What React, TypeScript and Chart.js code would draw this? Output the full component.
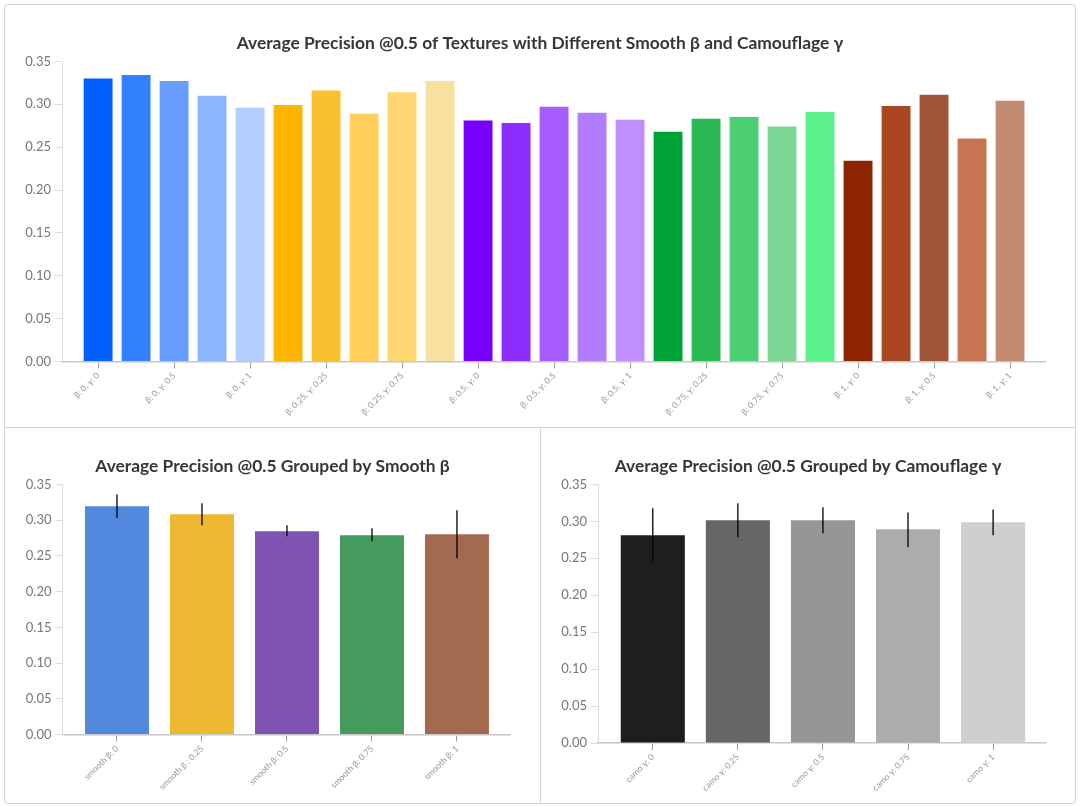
import React, { useEffect, useRef } from 'react';
import { Chart, registerables } from 'chart.js';

Chart.register(...registerables);

// ---------- data ----------
const textureLabels = [
  'β: 0, γ: 0', 'β: 0, γ: 0.25', 'β: 0, γ: 0.5', 'β: 0, γ: 0.75', 'β: 0, γ: 1',
  'β: 0.25, γ: 0', 'β: 0.25, γ: 0.25', 'β: 0.25, γ: 0.5', 'β: 0.25, γ: 0.75', 'β: 0.25, γ: 1',
  'β: 0.5, γ: 0', 'β: 0.5, γ: 0.25', 'β: 0.5, γ: 0.5', 'β: 0.5, γ: 0.75', 'β: 0.5, γ: 1',
  'β: 0.75, γ: 0', 'β: 0.75, γ: 0.25', 'β: 0.75, γ: 0.5', 'β: 0.75, γ: 0.75', 'β: 0.75, γ: 1',
  'β: 1, γ: 0', 'β: 1, γ: 0.25', 'β: 1, γ: 0.5', 'β: 1, γ: 0.75', 'β: 1, γ: 1',
];
const textureAP = [
  0.330, 0.334, 0.327, 0.310, 0.296,
  0.299, 0.316, 0.289, 0.314, 0.327,
  0.281, 0.278, 0.297, 0.290, 0.282,
  0.268, 0.283, 0.285, 0.274, 0.291,
  0.234, 0.298, 0.311, 0.260, 0.304,
];
const textureColors = [
  '#0061ff', '#3380ff', '#669dff', '#8cb5ff', '#b3cdff',
  '#ffb400', '#fbc02f', '#ffcf59', '#ffd670', '#f8e09f',
  '#7700ff', '#8c2cff', '#a65cff', '#b27cff', '#c08eff',
  '#00a336', '#2bb955', '#4ccf72', '#7dd895', '#5cf08a',
  '#8b2500', '#aa4721', '#a15437', '#c77453', '#c38a72',
];
const textureTickIdx = [0, 2, 4, 6, 8, 10, 12, 14, 16, 18, 20, 22, 24];

const smoothLabels = ['smooth β: 0', 'smooth β : 0.25', 'smooth β: 0.5', 'smooth β: 0.75', 'smooth β: 1'];
const smoothAP = [0.3193, 0.3081, 0.2844, 0.2790, 0.2802];
const smoothErrLow = [0.3030, 0.2927, 0.2774, 0.2704, 0.2467];
const smoothErrHigh = [0.3360, 0.3235, 0.2927, 0.2885, 0.3137];
const smoothColors = ['#5288dd', '#eeb833', '#7f53b2', '#469b5f', '#a36a50'];

const camoLabels = ['camo γ: 0', 'camo γ: 0.25', 'camo γ: 0.5', 'camo γ: 0.75', 'camo γ: 1'];
const camoAP = [0.2810, 0.3014, 0.3014, 0.2892, 0.2986];
const camoErrLow = [0.2460, 0.2784, 0.2838, 0.2650, 0.2810];
const camoErrHigh = [0.3176, 0.3243, 0.3190, 0.3120, 0.3160];
const camoColors = ['#1e1e1e', '#666666', '#969696', '#acacac', '#cfcfcf'];

const groupTickIdx = [0, 1, 2, 3, 4];
const yTickValues = [0, 0.05, 0.1, 0.15, 0.2, 0.25, 0.3, 0.35];

const FONT = 'Lato, "Noto Sans", sans-serif';

const errorBarPlugin = {
  id: 'errorBars',
  afterDatasetsDraw(chart: any, _args: any, opts: any) {
    const low: number[] | undefined = opts && opts.low;
    const high: number[] | undefined = opts && opts.high;
    if (!low || !high) return;
    const xs = chart.scales.x;
    const ys = chart.scales.y;
    const ctx = chart.ctx;
    ctx.save();
    ctx.strokeStyle = '#000';
    ctx.lineWidth = 1.3;
    low.forEach((l, i) => {
      const px = xs.getPixelForValue(i);
      ctx.beginPath();
      ctx.moveTo(px, ys.getPixelForValue(high[i]));
      ctx.lineTo(px, ys.getPixelForValue(l));
      ctx.stroke();
    });
    ctx.restore();
  },
};

interface PanelProps {
  labels: string[];
  values: number[];
  colors: string[];
  title: string;
  tickIdx: number[];
  xMin: number;
  xMax: number;
  barPct: number;
  width: number;
  height: number;
  yAxisWidth: number;
  xAxisHeight: number;
  rightGap: number;
  titleTop: number;
  titleBottom: number;
  errLow?: number[];
  errHigh?: number[];
}

function BarPanel(p: PanelProps) {
  const ref = useRef<HTMLCanvasElement | null>(null);
  useEffect(() => {
    if (!ref.current) return;
    const chart = new Chart(ref.current, {
      type: 'bar',
      data: {
        datasets: [
          {
            data: p.values.map((v, i) => ({ x: i, y: v })),
            backgroundColor: p.colors,
            borderWidth: 0,
            barPercentage: p.barPct,
            categoryPercentage: 1,
            xAxisID: 'x',
            yAxisID: 'y',
          } as any,
        ],
      },
      options: {
        responsive: false,
        animation: false,
        events: [],
        layout: { padding: 0 },
        plugins: {
          legend: { display: false },
          tooltip: { enabled: false },
          title: {
            display: true,
            text: p.title,
            color: '#363636',
            fullSize: true,
            font: { family: FONT, size: 17.4, weight: 'bold', lineHeight: 1.2 },
            padding: { top: p.titleTop, bottom: p.titleBottom },
          },
          errorBars: { low: p.errLow, high: p.errHigh },
        } as any,
        scales: {
          x: {
            type: 'linear',
            min: p.xMin,
            max: p.xMax,
            offset: false,
            afterBuildTicks: (scale: any) => {
              scale.ticks = p.tickIdx.map((v) => ({ value: v }));
            },
            afterFit: (scale: any) => {
              scale.height = p.xAxisHeight;
            },
            grid: {
              display: true,
              offset: false,
              drawOnChartArea: false,
              drawTicks: true,
              tickLength: 7,
              tickColor: '#9a9a9a',
            },
            border: { display: true, color: '#c6c6c6', width: 1.5 },
            ticks: {
              autoSkip: false,
              minRotation: 45,
              maxRotation: 45,
              padding: 2,
              color: '#959595',
              font: { family: FONT, size: 8.5 },
              callback: (v: any) => p.labels[Math.round(Number(v))] ?? '',
            },
          },
          y: {
            type: 'linear',
            position: 'left',
            min: 0,
            max: 0.35,
            afterBuildTicks: (scale: any) => {
              scale.ticks = yTickValues.map((v) => ({ value: v }));
            },
            afterFit: (scale: any) => {
              scale.width = p.yAxisWidth;
            },
            grid: {
              display: true,
              drawOnChartArea: false,
              drawTicks: true,
              tickLength: 7,
              tickColor: '#dddddd',
            },
            border: { display: true, color: '#dddddd', width: 1 },
            ticks: {
              padding: 4,
              color: '#777777',
              font: { family: FONT, size: 13 },
              callback: (v: any) => Number(v).toFixed(2),
            },
          },
          gapRight: {
            type: 'linear',
            position: 'right',
            display: true,
            min: 0,
            max: 0.35,
            afterFit: (scale: any) => {
              scale.width = p.rightGap;
            },
            grid: { display: false },
            border: { display: false },
            ticks: { display: false },
          },
        },
      } as any,
      plugins: [errorBarPlugin as any],
    });
    return () => chart.destroy();
  }, []);
  return <canvas ref={ref} width={p.width} height={p.height} style={{ display: 'block', width: p.width, height: p.height }} />;
}

const panelStyle = (left: number, top: number, w: number, h: number): React.CSSProperties => ({
  position: 'absolute',
  left,
  top,
  width: w,
  height: h,
  boxSizing: 'border-box',
  border: '1px solid #d5d5d5',
  background: '#fff',
});

export default function App() {
  return (
    <div style={{ position: 'absolute', left: 0, top: 0, width: 1080, height: 806, background: '#fff' }}>
      <div style={{ ...panelStyle(4, 4, 1072, 424), borderRadius: '4px 4px 0 0' }}>
        <BarPanel
          labels={textureLabels}
          values={textureAP}
          colors={textureColors}
          title="Average Precision @0.5 of Textures with Different Smooth β and Camouflage γ"
          tickIdx={textureTickIdx}
          xMin={-0.95}
          xMax={24.92}
          barPct={0.76}
          width={1070}
          height={422}
          yAxisWidth={57}
          xAxisHeight={65.5}
          rightGap={30}
          titleTop={27.5}
          titleBottom={8}
        />
      </div>
      <div style={{ ...panelStyle(4, 427, 537, 377), borderRadius: '0 0 0 4px' }}>
        <BarPanel
          labels={smoothLabels}
          values={smoothAP}
          colors={smoothColors}
          title="Average Precision @0.5 Grouped by Smooth β"
          tickIdx={groupTickIdx}
          xMin={-0.641}
          xMax={4.624}
          barPct={0.753}
          width={535}
          height={375}
          yAxisWidth={57.5}
          xAxisHeight={68.4}
          rightGap={30}
          titleTop={27.5}
          titleBottom={8}
          errLow={smoothErrLow}
          errHigh={smoothErrHigh}
        />
      </div>
      <div style={{ ...panelStyle(540, 427, 536, 377), borderRadius: '0 0 4px 0' }}>
        <BarPanel
          labels={camoLabels}
          values={camoAP}
          colors={camoColors}
          title="Average Precision @0.5 Grouped by Camouflage γ"
          tickIdx={groupTickIdx}
          xMin={-0.644}
          xMax={4.61}
          barPct={0.753}
          width={534}
          height={375}
          yAxisWidth={57}
          xAxisHeight={60}
          rightGap={30}
          titleTop={27.5}
          titleBottom={8}
          errLow={camoErrLow}
          errHigh={camoErrHigh}
        />
      </div>
    </div>
  );
}
